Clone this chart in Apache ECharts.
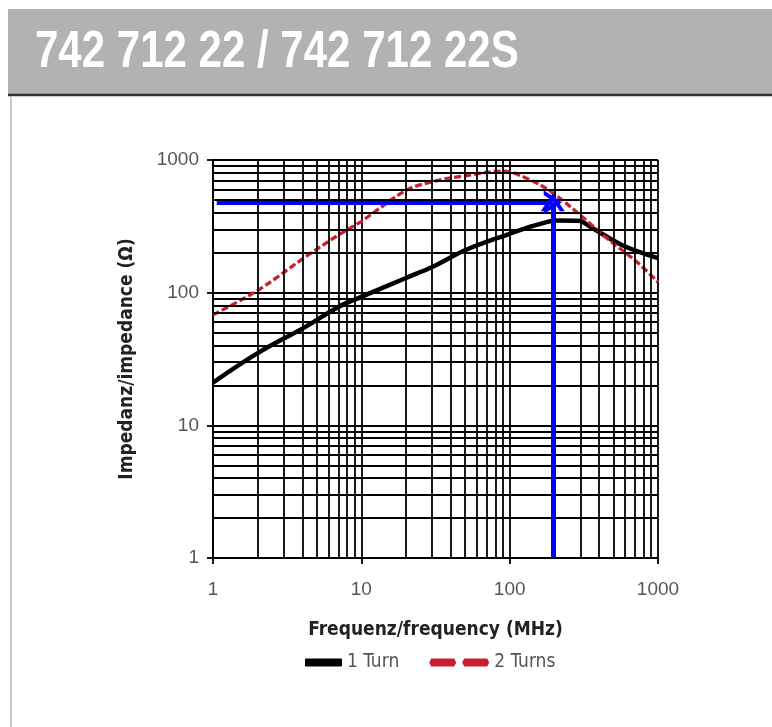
<!DOCTYPE html>
<html><head><meta charset="utf-8">
<script src="https://cdn.jsdelivr.net/npm/echarts@6/dist/echarts.min.js"></script>
<style>html,body{margin:0;padding:0;background:#fff}#c{width:772px;height:727px}</style>
</head><body><div id="c"></div>
<script>
// ---- data ----
const title = '742 712 22 / 742 712 22S';
const xName = 'Frequenz/frequency (MHz)';
const yName = 'Impedanz/impedance (\u03A9)';
const freq1 = [1, 2, 4.17, 7, 10, 20, 30, 50, 100, 150, 210, 290, 360, 575, 1000];
const turn1 = [21, 35, 55, 78, 93, 129, 156, 209, 278, 323, 350, 348, 307, 228, 182];
const freq2 = [1, 2, 4.17, 7, 10, 20, 30, 50, 90, 133, 193, 307, 438, 735, 1000];
const turn2 = [68, 104, 185, 272, 345, 590, 685, 760, 825, 720, 570, 375, 265, 167, 120];
const decades = [1, 10, 100];
const minorMult = [2, 3, 4, 5, 6, 7, 8, 9];
const arrowStartFreq = 1.06;
const arrowFreq = 195;
const arrowImp = 480;

const minorVals = [];
decades.forEach(d => minorMult.forEach(m => minorVals.push(d * m)));

const font = "'Liberation Sans',Arial,sans-serif";
const condFont = "'DejaVu Sans Condensed','Liberation Sans',sans-serif";
const chev = 'path://M0,10 L5,0 L10,10 L8,10 L5,4 L2,10 Z';

const chart = echarts.init(document.getElementById('c'));
chart.setOption({
  animation: false,
  backgroundColor: '#fff',
  graphic: [
    {type: 'rect', shape: {x: 8, y: 9, width: 764, height: 85}, style: {fill: '#b1b3b2'}, z: 0},
    {type: 'line', shape: {x1: 8, y1: 95, x2: 772, y2: 95}, style: {stroke: '#333', lineWidth: 2.5}},
    {type: 'line', shape: {x1: 11, y1: 96, x2: 11, y2: 727}, style: {stroke: '#b8b8b8', lineWidth: 1.5}},
    {type: 'text', x: 35, y: 78, scaleX: 0.824, scaleY: 1,
     style: {text: title, fill: '#fff', font: "bold 51px " + font, textBaseline: 'alphabetic', textVerticalAlign: 'bottom'}}
  ],
  grid: {left: 213, right: 114, top: 160, bottom: 169},
  legend: {
    data: [
      {name: '1 Turn', icon: 'path://M0,4 L0.01,4 L0,4.01 Z M23,1 Q23,0 24,0 H59 Q60,0 60,1 V7 Q60,8 59,8 H24 Q23,8 23,7 Z'},
      {name: '2 Turns', icon: 'path://M0,4 L2,0 H25 L27,4 L25,8 H2 Z M33,4 L35,0 H58 L60,4 L58,8 H35 Z'}
    ],
    bottom: 50, left: 277, itemWidth: 60, itemHeight: 8, itemGap: 30,
    textStyle: {fontFamily: condFont, fontSize: 19, color: '#555'}
  },
  xAxis: {
    type: 'log', logBase: 10, min: 1, max: 1000,
    name: xName, nameLocation: 'middle', nameGap: 63,
    nameTextStyle: {fontFamily: condFont, fontWeight: 'bold', fontSize: 19, color: '#222'},
    axisLine: {lineStyle: {color: '#000', width: 1.8}},
    axisTick: {show: true, length: 6, lineStyle: {color: '#000', width: 1.8}},
    axisLabel: {fontFamily: font, fontSize: 19, color: '#555', margin: 22, formatter: v => String(v)},
    splitLine: {show: true, lineStyle: {color: '#000', width: 1.8}},
    minorTick: {show: false}, minorSplitLine: {show: false}
  },
  yAxis: {
    type: 'log', logBase: 10, min: 1, max: 1000,
    name: yName, nameLocation: 'middle', nameGap: 76,
    nameTextStyle: {fontFamily: condFont, fontWeight: 'bold', fontSize: 19, color: '#222'},
    axisLine: {lineStyle: {color: '#000', width: 1.8}},
    axisTick: {show: true, length: 6, lineStyle: {color: '#000', width: 1.8}},
    axisLabel: {fontFamily: font, fontSize: 19, color: '#555', margin: 14, formatter: v => String(v)},
    splitLine: {show: true, lineStyle: {color: '#000', width: 1.8}},
    minorTick: {show: false}, minorSplitLine: {show: false}
  },
  series: [
    {
      name: 'grid', type: 'line', data: [], silent: true, z: 1,
      markLine: {
        silent: true, symbol: 'none', label: {show: false},
        lineStyle: {color: '#000', width: 1.8, type: 'solid'},
        data: minorVals.map(v => ({xAxis: v})).concat(minorVals.map(v => ({yAxis: v})))
      }
    },
    {
      name: '1 Turn', type: 'line', data: freq1.map((f, i) => [f, turn1[i]]),
      smooth: 0.35, symbol: 'none', z: 3,
      lineStyle: {color: '#000', width: 4.5}, itemStyle: {color: '#000'}
    },
    {
      name: '2 Turns', type: 'line', data: freq2.map((f, i) => [f, turn2[i]]),
      smooth: 0.35, symbol: 'none', z: 3,
      lineStyle: {color: '#c81e2e', width: 3.3, type: [7, 3]}, itemStyle: {color: '#c81e2e'},
      markLine: {
        silent: true, label: {show: false}, z: 5,
        symbol: ['none', chev], symbolSize: [24, 18],
        lineStyle: {color: '#0000ff', width: 4, type: 'solid'},
        data: [
          [{coord: [arrowStartFreq, arrowImp]}, {coord: [arrowFreq, arrowImp]}],
          [{coord: [arrowFreq, 1]}, {coord: [arrowFreq, arrowImp]}]
        ]
      }
    }
  ]
});
</script></body></html>
